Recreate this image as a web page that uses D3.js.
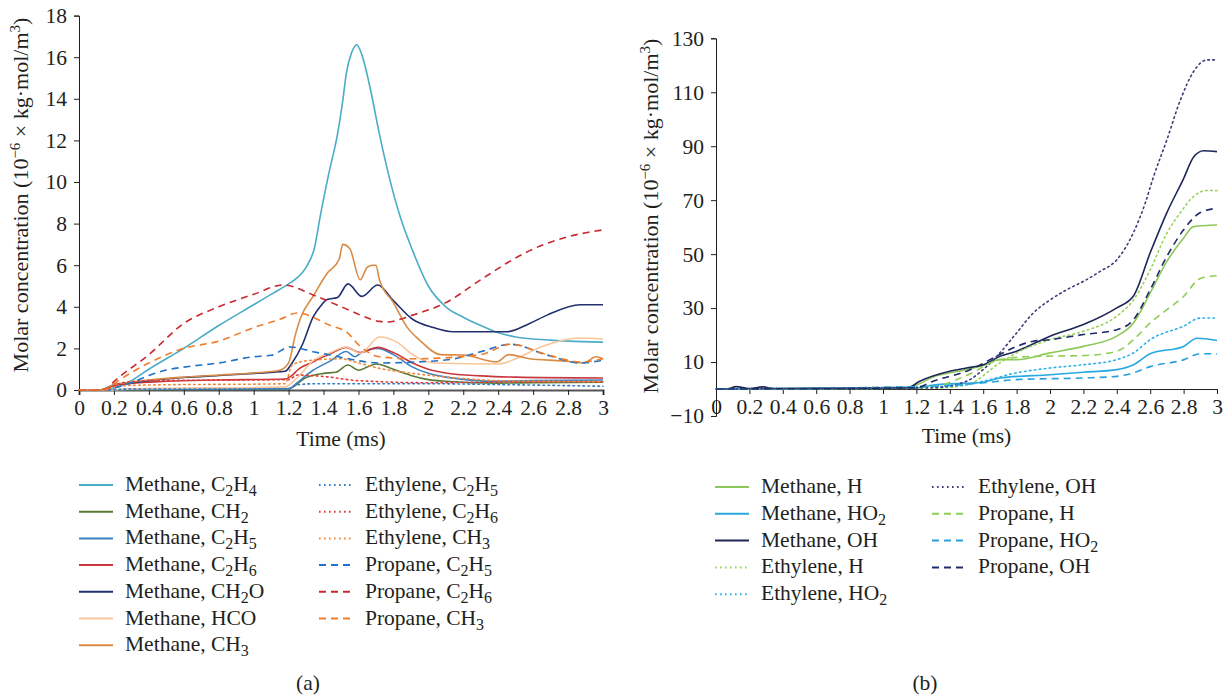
<!DOCTYPE html>
<html>
<head>
<meta charset="utf-8">
<script src="https://cdn.jsdelivr.net/npm/d3@7"></script>
<style>
  html, body { margin: 0; padding: 0; background: #fff; }
  svg text { font-family: "Liberation Serif", "Times New Roman", Tinos, "DejaVu Serif", serif !important; fill: #231f20; }
</style>
</head>
<body>
<svg id="chart" width="1225" height="697" font-family="Liberation Serif, Times New Roman, serif"></svg>
<script>
// ---- Panel (a): concentrations of minor species, 10^-6 kg·mol/m^3 vs time (ms) ----
const ticksA_x = [0, 0.2, 0.4, 0.6, 0.8, 1, 1.2, 1.4, 1.6, 1.8, 2, 2.2, 2.4, 2.6, 2.8, 3];
const ticksA_y = [0, 2, 4, 6, 8, 10, 12, 14, 16, 18];

const methaneC2H4 = [[0,0],[0.12,0],[0.2,0.1],[0.3,0.45],[0.4,1.0],[0.6,2.0],[0.8,3.1],[1.0,4.1],[1.1,4.6],[1.2,5.1],[1.25,5.4],[1.3,5.9],[1.35,6.9],[1.38,8.3],[1.43,10.4],[1.48,12.3],[1.51,13.9],[1.53,15.2],[1.56,16.2],[1.59,16.6],[1.62,16.1],[1.67,14.4],[1.72,12.3],[1.78,10.1],[1.84,8.3],[1.91,6.7],[2.0,5.0],[2.1,4.0],[2.2,3.5],[2.3,3.1],[2.4,2.75],[2.5,2.55],[2.6,2.45],[2.7,2.4],[2.8,2.35],[3.0,2.3]];
const methaneCH2 = [[0,0],[0.15,0],[0.3,0.02],[1.2,0.05],[1.25,0.3],[1.3,0.6],[1.4,0.8],[1.47,0.85],[1.54,1.2],[1.6,0.95],[1.65,1.1],[1.7,1.25],[1.8,1.0],[1.9,0.7],[2.0,0.5],[2.1,0.42],[2.4,0.33],[2.6,0.35],[3.0,0.37]];
const methaneC2H5 = [[0,0],[0.15,0],[0.3,0.03],[1.2,0.07],[1.25,0.35],[1.3,0.7],[1.34,0.95],[1.44,1.4],[1.53,1.85],[1.58,1.6],[1.61,1.75],[1.71,2.0],[1.8,1.7],[1.91,1.1],[2.0,0.8],[2.1,0.62],[2.4,0.42],[2.6,0.45],[3.0,0.48]];
const methaneC2H6 = [[0,0],[0.12,0],[0.2,0.2],[0.3,0.32],[0.5,0.42],[0.8,0.48],[1.18,0.53],[1.22,0.7],[1.25,0.95],[1.34,1.35],[1.44,1.75],[1.53,2.05],[1.61,1.8],[1.71,2.05],[1.8,1.8],[1.91,1.3],[2.0,1.0],[2.1,0.82],[2.3,0.68],[2.5,0.62],[3.0,0.58]];
const methaneCH2O = [[0,0],[0.12,0],[0.2,0.25],[0.3,0.35],[0.4,0.45],[0.6,0.6],[0.8,0.7],[1.0,0.8],[1.18,0.9],[1.22,1.3],[1.28,2.2],[1.34,3.5],[1.38,4.0],[1.42,4.35],[1.48,4.45],[1.54,5.1],[1.62,4.5],[1.71,5.05],[1.8,4.3],[1.91,3.4],[2.03,3.0],[2.14,2.8],[2.45,2.8],[2.58,3.2],[2.68,3.6],[2.87,4.1],[3.0,4.1]];
const methaneHCO = [[0,0],[0.15,0],[0.3,0.05],[1.18,0.15],[1.25,0.6],[1.34,1.4],[1.44,1.8],[1.53,2.07],[1.61,1.76],[1.72,2.55],[1.82,2.3],[1.91,1.7],[2.03,1.3],[2.4,1.25],[2.5,1.5],[2.64,2.05],[2.87,2.5],[3.0,2.45]];
const methaneCH3 = [[0,0],[0.12,0],[0.2,0.25],[0.3,0.38],[0.4,0.48],[0.6,0.62],[0.8,0.72],[1.0,0.82],[1.15,0.95],[1.2,1.3],[1.24,2.7],[1.27,3.5],[1.34,4.5],[1.42,5.6],[1.49,6.3],[1.51,7.0],[1.55,6.8],[1.61,5.3],[1.65,5.9],[1.68,6.0],[1.7,6.0],[1.72,5.3],[1.8,4.2],[1.88,3.0],[1.95,2.4],[2.07,1.7],[2.2,1.68],[2.39,1.35],[2.46,1.7],[2.58,1.5],[2.77,1.4],[2.89,1.3],[2.96,1.6],[3.0,1.5]];
const ethyleneC2H5 = [[0,0],[0.15,0],[0.3,0.05],[1.2,0.05],[1.25,0.25],[1.35,0.3],[2.0,0.3],[2.5,0.25],[3.0,0.18]];
const ethyleneC2H6 = [[0,0],[0.12,0],[0.25,0.35],[0.4,0.45],[1.2,0.5],[1.25,0.72],[1.4,0.65],[1.6,0.45],[2.0,0.35],[2.4,0.38],[3.0,0.4]];
const ethyleneCH3 = [[0,0],[0.12,0],[0.25,0.2],[0.4,0.24],[1.18,0.3],[1.22,1.2],[1.3,1.4],[1.5,1.5],[1.6,1.3],[1.72,1.04],[1.91,0.8],[2.2,0.55],[2.4,0.45],[3.0,0.4]];
const propaneC2H5 = [[0,0],[0.15,0],[0.2,0.1],[0.3,0.35],[0.4,0.7],[0.5,0.96],[0.6,1.1],[0.8,1.3],[1.0,1.6],[1.1,1.67],[1.21,2.07],[1.34,1.84],[1.44,1.68],[1.53,1.52],[1.72,1.3],[2.1,1.44],[2.3,1.84],[2.47,2.2],[2.68,1.68],[2.87,1.3],[3.0,1.44]];
const propaneC2H6 = [[0,0],[0.15,0],[0.2,0.4],[0.4,1.7],[0.6,3.2],[0.8,4.0],[1.0,4.6],[1.17,5.05],[1.34,4.57],[1.53,3.9],[1.72,3.3],[1.76,3.27],[1.91,3.6],[2.1,4.2],[2.3,5.3],[2.49,6.3],[2.58,6.7],[2.77,7.3],[3.0,7.7]];
const propaneCH3 = [[0,0],[0.15,0],[0.2,0.3],[0.4,1.3],[0.6,2.0],[0.8,2.35],[1.0,3.0],[1.15,3.4],[1.25,3.7],[1.44,3.1],[1.53,2.8],[1.61,2.1],[1.72,1.6],[1.91,1.5],[2.3,1.7],[2.47,2.2],[2.68,1.7],[2.87,1.35],[3.0,1.5]];

// ---- Panel (b): radicals H, HO2, OH ----
const ticksB_x = [0, 0.2, 0.4, 0.6, 0.8, 1, 1.2, 1.4, 1.6, 1.8, 2, 2.2, 2.4, 2.6, 2.8, 3];
const ticksB_y = [-10, 10, 30, 50, 70, 90, 110, 130];

const methaneH = [[0,0],[1.15,0.5],[1.22,2],[1.3,4.5],[1.4,6],[1.5,7.2],[1.6,8.7],[1.7,10.9],[1.8,10.9],[2.0,13.4],[2.2,15.8],[2.4,19.6],[2.5,24.5],[2.6,35.6],[2.7,47.3],[2.8,56],[2.86,60.2],[3.0,60.8]];
const methaneHO2 = [[0,0],[1.2,0.3],[1.3,1.5],[1.6,2.5],[1.7,4.1],[2.0,5.3],[2.2,6.2],[2.4,7.2],[2.5,9],[2.6,13.1],[2.8,15.8],[2.88,18.8],[3.0,18]];
const methaneOH = [[0,0],[0.07,0.1],[0.12,0.9],[0.2,0.2],[0.28,0.8],[0.35,0.2],[1.15,0.5],[1.22,2.9],[1.4,6.6],[1.5,7.8],[1.6,9],[1.7,12.1],[1.8,14],[2.0,19.6],[2.2,23.9],[2.4,30.1],[2.5,34.5],[2.6,50.5],[2.7,65.4],[2.8,78],[2.86,86],[2.92,88.3],[3.0,88]];
const ethyleneH = [[0,0],[1.3,0.3],[1.5,1.5],[1.7,9.7],[1.8,13.4],[2.0,18.3],[2.2,21.4],[2.4,27],[2.5,33],[2.6,44.2],[2.7,57.8],[2.78,65.3],[2.86,71.4],[2.94,73.6],[3.0,73.5]];
const ethyleneHO2 = [[0,0],[1.4,1],[1.6,2.9],[1.8,6],[2.0,7.8],[2.2,9],[2.4,10.9],[2.5,13.4],[2.6,18.3],[2.8,23.3],[2.9,26.3],[3.0,26.3]];
const ethyleneOH = [[0,0],[1.3,0.5],[1.5,2.9],[1.6,7.2],[1.7,13.4],[1.8,20.8],[1.9,28.2],[2.0,33],[2.1,36.8],[2.2,39.9],[2.3,43.6],[2.4,47.9],[2.5,58],[2.57,68.9],[2.62,78.7],[2.7,92.4],[2.78,107],[2.86,117.7],[2.94,122],[3.0,122]];
const propaneH = [[0,0],[1.3,1],[1.5,5],[1.7,10.9],[1.9,12.1],[2.2,12.4],[2.4,14],[2.5,18.3],[2.6,24.5],[2.7,29.4],[2.8,34.3],[2.9,41],[3.0,42]];
const propaneHO2 = [[0,0],[1.3,1],[1.6,2.3],[1.8,3.5],[2.2,4.1],[2.4,4.7],[2.5,6],[2.6,8.3],[2.8,10.8],[2.9,13.1],[3.0,13]];
const propaneOH = [[0,0],[1.2,0.5],[1.3,2.9],[1.5,6.6],[1.7,12.8],[1.8,15.8],[1.9,17.7],[2.0,18.3],[2.2,20.2],[2.4,22],[2.5,25.7],[2.6,36.8],[2.7,49.2],[2.8,59],[2.9,65.4],[3.0,67]];

// Series labels ("_n" marks a subscript digit) with their line styles
const DASH = "7,5", DOT = "1.6,3.4";
const seriesA = [
  { label: "Methane, C_2H_4", data: methaneC2H4, color: "#4bacc6", dash: null },
  { label: "Methane, CH_2", data: methaneCH2, color: "#5b7a34", dash: null },
  { label: "Methane, C_2H_5", data: methaneC2H5, color: "#3d82c4", dash: null },
  { label: "Methane, C_2H_6", data: methaneC2H6, color: "#c8393f", dash: null },
  { label: "Methane, CH_2O", data: methaneCH2O, color: "#22306f", dash: null },
  { label: "Methane, HCO", data: methaneHCO, color: "#f9c59a", dash: null },
  { label: "Methane, CH_3", data: methaneCH3, color: "#d98a45", dash: null },
  { label: "Ethylene, C_2H_5", data: ethyleneC2H5, color: "#2f7cc4", dash: DOT },
  { label: "Ethylene, C_2H_6", data: ethyleneC2H6, color: "#e2383a", dash: DOT },
  { label: "Ethylene, CH_3", data: ethyleneCH3, color: "#f0883a", dash: DOT },
  { label: "Propane, C_2H_5", data: propaneC2H5, color: "#1f72c8", dash: DASH },
  { label: "Propane, C_2H_6", data: propaneC2H6, color: "#c9262e", dash: DASH },
  { label: "Propane, CH_3", data: propaneCH3, color: "#f07d2a", dash: DASH }
];
const seriesB = [
  { label: "Methane, H", data: methaneH, color: "#8dc85a", dash: null },
  { label: "Methane, HO_2", data: methaneHO2, color: "#2aa8e2", dash: null },
  { label: "Methane, OH", data: methaneOH, color: "#1e2756", dash: null },
  { label: "Ethylene, H", data: ethyleneH, color: "#98d25c", dash: DOT },
  { label: "Ethylene, HO_2", data: ethyleneHO2, color: "#2cb0e8", dash: DOT },
  { label: "Ethylene, OH", data: ethyleneOH, color: "#3a3d78", dash: DOT },
  { label: "Propane, H", data: propaneH, color: "#8fcc57", dash: DASH },
  { label: "Propane, HO_2", data: propaneHO2, color: "#2a9fdc", dash: DASH },
  { label: "Propane, OH", data: propaneOH, color: "#1f2a68", dash: DASH }
];

const svg = d3.select("#chart");
const SERIF = "Liberation Serif, Times New Roman, serif";
const TICK_FONT = 21.5, TEXT_FONT = 21.5, YLABEL_FONT = 22;
const fmt = d => String(+(+d).toFixed(1));

// writes "abc_2def" as text with subscripted digits
function richText(sel, str, subSize) {
  const parts = str.split(/_(\d)/);
  parts.forEach((p, i) => {
    if (!p) return;
    if (i % 2 === 1) {
      sel.append("tspan").attr("dy", 5).attr("font-size", subSize).text(p);
    } else {
      sel.append("tspan").attr("dy", i === 0 ? 0 : -5).text(p);
    }
  });
}

function yLabel(g, cx, cy) {
  const t = g.append("text")
    .attr("transform", `translate(${cx},${cy}) rotate(-90)`)
    .attr("text-anchor", "middle")
    .attr("font-family", SERIF)
    .attr("font-size", YLABEL_FONT);
  t.append("tspan").text("Molar concentration (10");
  t.append("tspan").attr("dy", -8).attr("font-size", 15).text("−6");
  t.append("tspan").attr("dy", 8).text(" × kg·mol/m");
  t.append("tspan").attr("dy", -8).attr("font-size", 15).text("3");
  t.append("tspan").attr("dy", 8).text(")");
}

function panel(cfg) {
  const g = svg.append("g").attr("font-family", SERIF);
  const x = d3.scaleLinear().domain([0, 3]).range([cfg.x0, cfg.x1]);
  const y = d3.scaleLinear().domain(cfg.yDomain).range([cfg.yBottom, cfg.yTop]);

  const line = d3.line().x(d => x(d[0])).y(d => y(d[1])).curve(d3.curveMonotoneX);

  // x axis at y = 0
  const xAxis = g.append("g")
    .attr("transform", `translate(0,${y(0)})`)
    .call(d3.axisBottom(x).tickValues(cfg.xTicks).tickFormat(fmt).tickSizeOuter(0).tickSize(5).tickPadding(5));
  xAxis.attr("font-family", SERIF);
  xAxis.select(".domain").attr("stroke", cfg.xAxisColor).attr("stroke-width", cfg.xAxisWidth);
  xAxis.selectAll(".tick line").attr("stroke", "#231f20");
  xAxis.selectAll("text").attr("font-size", TICK_FONT).attr("fill", "#231f20");

  // y axis
  const yAxis = g.append("g")
    .attr("transform", `translate(${cfg.x0},0)`)
    .call(d3.axisLeft(y).tickValues(cfg.yTicks).tickFormat(d => d < 0 ? "−" + Math.abs(d) : d).tickSizeOuter(0).tickSize(5).tickPadding(7));
  yAxis.attr("font-family", SERIF);
  yAxis.select(".domain").attr("stroke", "#231f20");
  yAxis.selectAll(".tick line").attr("stroke", "#231f20");
  yAxis.selectAll("text").attr("font-size", TICK_FONT).attr("fill", "#231f20");

  // series
  g.append("g").selectAll("path").data(cfg.series).join("path")
    .attr("d", s => line(s.data))
    .attr("fill", "none")
    .attr("stroke", s => s.color)
    .attr("stroke-width", 1.6)
    .attr("stroke-dasharray", s => s.dash)
    .attr("stroke-linecap", s => s.dash === DOT ? "round" : "butt");

  // axis titles
  g.append("text").attr("x", (cfg.x0 + cfg.x1) / 2).attr("y", cfg.titleY)
    .attr("text-anchor", "middle").attr("font-size", TEXT_FONT).text("Time (ms)");
  yLabel(g, cfg.yLabelX, cfg.yLabelY);

  // legend, two columns
  const leg = g.append("g");
  cfg.series.forEach((s, i) => {
    const col = i < cfg.legendSplit ? 0 : 1;
    const row = col === 0 ? i : i - cfg.legendSplit;
    const lx = cfg.legendX[col], ly = cfg.legendY + row * cfg.legendStep;
    leg.append("line")
      .attr("x1", lx).attr("x2", lx + 34).attr("y1", ly).attr("y2", ly)
      .attr("stroke", s.color).attr("stroke-width", 2)
      .attr("stroke-dasharray", s.dash);
    const t = leg.append("text").attr("x", lx + 46).attr("y", ly + 6).attr("font-size", TEXT_FONT);
    richText(t, s.label, 16);
  });

  g.append("text").attr("x", cfg.capX).attr("y", 690).attr("text-anchor", "middle")
    .attr("font-size", TEXT_FONT).text(cfg.caption);
}

panel({
  x0: 79, x1: 603, yTop: 15.6, yBottom: 390, yDomain: [0, 18],
  xTicks: ticksA_x, yTicks: ticksA_y, series: seriesA,
  xAxisColor: "#555", xAxisWidth: 2,
  titleY: 446, yLabelX: 28, yLabelY: 195,
  legendSplit: 7, legendX: [79, 319], legendY: 485, legendStep: 26.7,
  capX: 308, caption: "(a)"
});

panel({
  x0: 716, x1: 1217, yTop: 38.3, yBottom: 416, yDomain: [-10, 130],
  xTicks: ticksB_x, yTicks: ticksB_y, series: seriesB,
  xAxisColor: "#231f20", xAxisWidth: 1,
  titleY: 443, yLabelX: 658, yLabelY: 216,
  legendSplit: 5, legendX: [715, 932], legendY: 487, legendStep: 26.8,
  capX: 925, caption: "(b)"
});
</script>
</body>
</html>
